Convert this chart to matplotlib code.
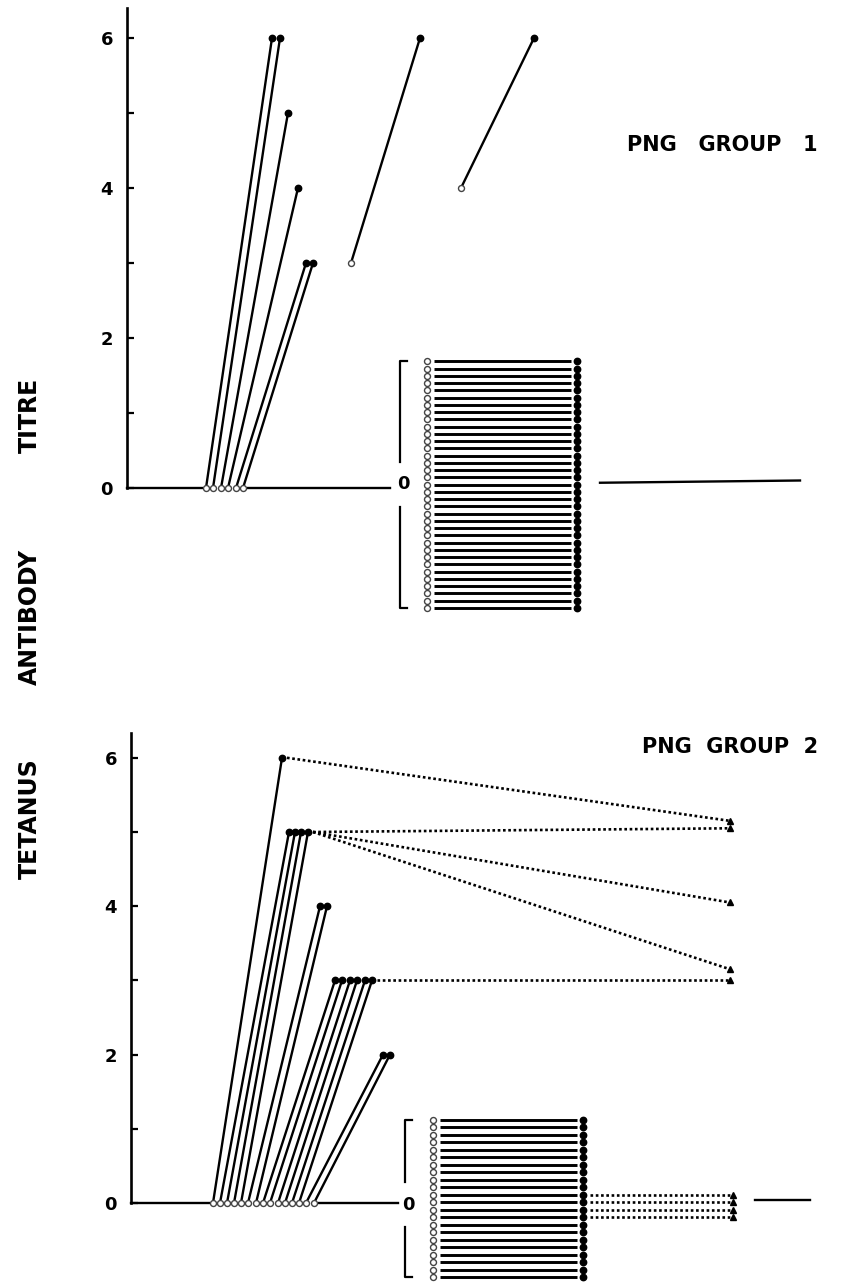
import matplotlib
matplotlib.use("Agg")
import matplotlib.pyplot as plt
import numpy as np

W, H = 846, 1282

# ---------------- data ----------------
# Group 1: subjects with a rise (pre -> post titre), x = drawing slot
g1_pre_x = [206, 213, 221, 228, 236, 243, 351, 461]
g1_pre = [0, 0, 0, 0, 0, 0, 3, 4]
g1_post_x = [272, 280, 288, 298, 306, 313, 420, 534]
g1_post = [6, 6, 5, 4, 3, 3, 6, 6]
g1_n_zero = 35            # subjects 0 -> 0 (stacked block)

# Group 2
g2_pre_x = [213, 220, 227, 234, 241, 248, 256, 263, 270, 278, 285, 292, 299, 306, 314]
g2_pre = [0] * 15
g2_post_x = [282, 289, 295, 301, 308, 320, 327, 335, 342, 350, 357, 365, 372, 383, 390]
g2_post = [6, 5, 5, 5, 5, 4, 4, 3, 3, 3, 3, 3, 3, 2, 2]
g2_follow_from = [0, 4, 4, 4, 12]          # subject index followed up
g2_follow = [5.15, 5.05, 4.05, 3.15, 3.0]  # follow-up titre (triangles)
g2_n_zero = 22
g2_zero_follow_rows = [10, 11, 12, 13]     # block rows followed up (0 -> 0 -> 0)

yticks_major = [0, 2, 4, 6]
yticks_minor = [1, 3, 5]

# ---------------- layout ----------------
fig = plt.figure(figsize=(W / 100, H / 100), dpi=100)
plt.rcParams['font.family'] = ['DejaVu Sans']

LW = 1.7
MS_O = 4.3
MS_F = 4.6


def make_axes(p_top, p_bot, p_zero, px_per_unit, axis_x, axis_top):
    ax = fig.add_axes([0, 1 - p_bot / H, 1, (p_bot - p_top) / H])
    ax.set_xlim(0, W)
    ax.set_ylim((p_zero - p_bot) / px_per_unit, (p_zero - p_top) / px_per_unit)
    for s in ['top', 'right', 'bottom']:
        ax.spines[s].set_visible(False)
    ax.spines['left'].set_position(('data', axis_x))
    ax.spines['left'].set_bounds(0, axis_top)
    ax.spines['left'].set_linewidth(1.9)
    ax.set_xticks([])
    ax.set_yticks(yticks_major)
    ax.set_yticklabels([str(t) for t in yticks_major], fontsize=13, fontweight='bold')
    ax.set_yticks(yticks_minor, minor=True)
    ax.tick_params(axis='y', which='both', direction='in', length=5, width=1.6, pad=10)
    ax.patch.set_alpha(0)
    return ax


def block(ax, n, y_top, y_bot, x_open, x_fill, bracket_x, gap_top, gap_bot, zero_y):
    ys = np.linspace(y_top, y_bot, n)
    for y in ys:
        ax.plot([x_open + 7, x_fill - 6], [y, y], color='k', lw=2.1, solid_capstyle='butt')
    ax.plot([x_open] * n, ys, 'o', ms=MS_O, mfc='white', mec='#444444', mew=1.0, zorder=5)
    ax.plot([x_fill] * n, ys, 'o', ms=MS_F, mfc='k', mec='k', zorder=5)
    # bracket
    ax.plot([bracket_x + 7, bracket_x, bracket_x], [y_top, y_top, gap_top], color='k', lw=1.6)
    ax.plot([bracket_x, bracket_x, bracket_x + 7], [gap_bot, y_bot, y_bot], color='k', lw=1.6)
    ax.text(bracket_x - 3, zero_y, '0', fontsize=13, fontweight='bold', ha='left', va='center')
    return ys


# ---------------- Group 1 ----------------
ax1 = make_axes(0, 650, 488, 75.0, 127, 6.4)
ax1.plot([127, g1_pre_x[0] - 4], [0, 0], color='k', lw=LW)
ax1.plot([g1_pre_x[5] + 5, 390], [0, 0], color='k', lw=LW)
for x0, y0, x1, y1 in zip(g1_pre_x, g1_pre, g1_post_x, g1_post):
    ax1.plot([x0, x1], [y0, y1], color='k', lw=LW)
ax1.plot(g1_pre_x, g1_pre, 'o', ms=MS_O, mfc='white', mec='#444444', mew=1.0, zorder=5)
ax1.plot(g1_post_x, g1_post, 'o', ms=MS_F, mfc='k', mec='k', zorder=5)
block(ax1, g1_n_zero, 1.69, -1.6, 427, 577, 400, 0.35, -0.25, 0.05)
ax1.plot([600, 800], [0.07, 0.1], color='k', lw=LW)
ax1.text(818, 4.57, 'PNG   GROUP   1', fontsize=15, fontweight='bold', ha='right', va='center')

# ---------------- Group 2 ----------------
ax2 = make_axes(660, H, 1203, 74.2, 131, 6.33)
ax2.plot([131, g2_pre_x[0] - 4], [0, 0], color='k', lw=LW)
ax2.plot([g2_pre_x[-1] + 5, 398], [0, 0], color='k', lw=LW)
for x0, y0, x1, y1 in zip(g2_pre_x, g2_pre, g2_post_x, g2_post):
    ax2.plot([x0, x1], [y0, y1], color='k', lw=LW)
dot_style = dict(color='k', lw=1.9, linestyle=(0, (1, 1.0)))
for i, f in zip(g2_follow_from, g2_follow):
    ax2.plot([g2_post_x[i] + 5, 730], [g2_post[i], f], **dot_style)
ax2.plot([730] * len(g2_follow), g2_follow, '^', ms=5, color='k', zorder=6)
ax2.plot(g2_pre_x, g2_pre, 'o', ms=MS_O, mfc='white', mec='#444444', mew=1.0, zorder=5)
ax2.plot(g2_post_x, g2_post, 'o', ms=MS_F, mfc='k', mec='k', zorder=5)
ys2 = block(ax2, g2_n_zero, 1.12, -1.0, 433, 583, 405, 0.28, -0.32, -0.03)
for r in g2_zero_follow_rows:
    ax2.plot([590, 730], [ys2[r], ys2[r]], **dot_style)
    ax2.plot([733], [ys2[r]], '^', ms=5, color='k', zorder=6)
ax2.plot([755, 810], [0.04, 0.04], color='k', lw=LW)
ax2.text(818, 6.15, 'PNG  GROUP  2', fontsize=15, fontweight='bold', ha='right', va='center')

# ---------------- shared y label ----------------
for word, p in [('TITRE', 415), ('ANTIBODY', 617), ('TETANUS', 819)]:
    fig.text(30 / W, 1 - p / H, word, rotation=90, fontsize=17, fontweight='bold',
             ha='center', va='center')

fig.savefig('out.png', dpi=100)
